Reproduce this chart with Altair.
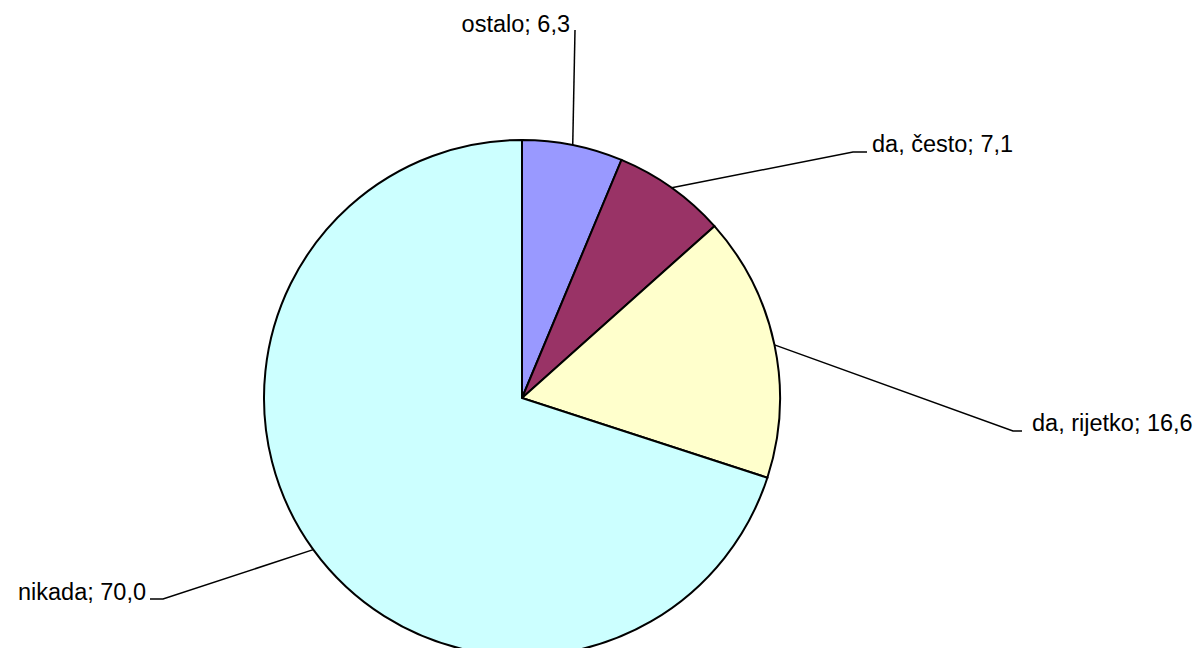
import math
import altair as alt
import pandas as pd

# Data
categories = ["ostalo", "da, često", "da, rijetko", "nikada"]
values = [6.3, 7.1, 16.6, 70.0]
labels = ["ostalo; 6,3", "da, često; 7,1", "da, rijetko; 16,6", "nikada; 70,0"]
colors = ["#9999FF", "#993366", "#FFFFCC", "#CCFFFF"]

# Layout (pixel positions within the chart area)
W, H = 1186, 640
CX, CY, R = 514, 390, 258
label_x = [562, 864, 1024, 138]
label_y = [24, 144, 423, 592]
label_align = ["right", "left", "left", "right"]
elbow_x = [567, 845, 1005, 155]
elbow_y = [22, 144, 423, 591]
end_x = [567, 859, 1014, 142]
end_y = [22, 144, 423, 591]

df = pd.DataFrame({"cat": categories, "val": values, "idx": range(len(values))})

# leader lines: pie edge point (from the data's mid-angle) -> elbow -> end
rows = []
cum = 0.0
total = sum(values)
for i, (c, v) in enumerate(zip(categories, values)):
    mid = (cum + v / 2) / total * 2 * math.pi
    cum += v
    ex = CX + R * math.sin(mid)
    ey = CY - R * math.cos(mid)
    rows.append({"cat": c, "pt": 0, "x": ex, "y": ey})
    rows.append({"cat": c, "pt": 1, "x": elbow_x[i], "y": elbow_y[i]})
    rows.append({"cat": c, "pt": 2, "x": end_x[i], "y": end_y[i]})
lines_df = pd.DataFrame(rows)

lab_df = pd.DataFrame({"label": labels, "x": label_x, "y": label_y, "align": label_align})

xs = alt.Scale(domain=[0, W], range=[0, W])
ys = alt.Scale(domain=[0, H], range=[0, H])

pie = alt.Chart(df).mark_arc(radius=R, stroke="black", strokeWidth=2).encode(
    theta=alt.Theta("val:Q", stack=True),
    order=alt.Order("idx:Q"),
    color=alt.Color("cat:N", scale=alt.Scale(domain=categories, range=colors), legend=None),
    x=alt.value(CX),
    y=alt.value(CY),
)

leaders = alt.Chart(lines_df).mark_line(color="black", strokeWidth=1.5).encode(
    x=alt.X("x:Q", scale=xs, axis=None),
    y=alt.Y("y:Q", scale=ys, axis=None),
    detail="cat:N",
    order="pt:Q",
)

def text_layer(align):
    return alt.Chart(lab_df[lab_df["align"] == align]).mark_text(
        align=align, baseline="alphabetic", font="Liberation Sans", fontSize=23.5, color="black"
    ).encode(
        x=alt.X("x:Q", scale=xs, axis=None),
        y=alt.Y("y:Q", scale=ys, axis=None),
        text="label:N",
    )

chart = alt.layer(pie, leaders, text_layer("left"), text_layer("right")).properties(
    width=W, height=H, autosize=alt.AutoSizeParams(type="none"), padding=0
).configure_view(stroke=None)

chart.save("out.html", embed_options={"renderer": "svg", "actions": False})
